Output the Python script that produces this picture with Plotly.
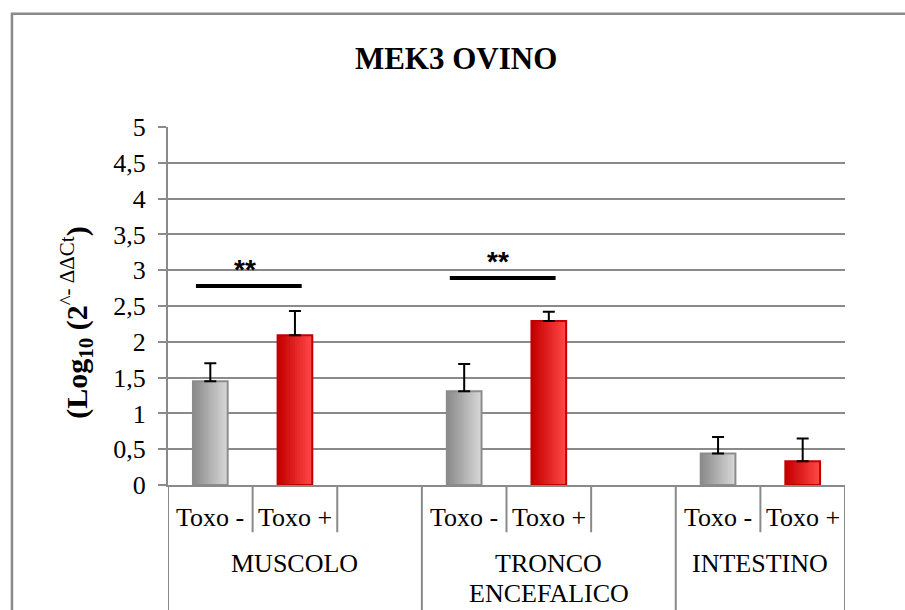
import plotly.graph_objects as go

# ---- data -------------------------------------------------------------
groups = ["MUSCOLO", "TRONCO\nENCEFALICO", "INTESTINO"]
conditions = ["Toxo -", "Toxo +"]
toxo_neg = [1.45, 1.31, 0.44]
toxo_neg_err = [0.25, 0.38, 0.23]
toxo_pos = [2.09, 2.29, 0.33]
toxo_pos_err = [0.34, 0.13, 0.32]
y_ticks = [0, 0.5, 1, 1.5, 2, 2.5, 3, 3.5, 4, 4.5, 5]
# significance brackets: (group index, bar height, label)
signif = [(0, 2.78, "**"), (1, 2.89, "**")]

# ---- layout helpers ---------------------------------------------------
SLOTS_PER_GROUP = 3          # two bars + one empty slot per group
n_slots = SLOTS_PER_GROUP * (len(groups) - 1) + len(conditions)
FONT = "Liberation Serif, Times New Roman, serif"
GRID = "#8a8a8a"
BAR_W = 0.41
N_STRIPS = 14                # shading steps across each bar


def lerp_color(c0, c1, t):
    return "rgb({},{},{})".format(*[round(a + (b - a) * t) for a, b in zip(c0, c1)])


fig = go.Figure()

series = [
    (toxo_neg, toxo_neg_err, 0, (140, 140, 140), (214, 214, 214), "#8c8c8c"),
    (toxo_pos, toxo_pos_err, 1, (196, 0, 0), (255, 70, 70), "#c00000"),
]
for values, errors, offset, dark, light, edge in series:
    xs = [SLOTS_PER_GROUP * g + offset for g in range(len(groups))]
    step = BAR_W / N_STRIPS
    # shaded fill: successive narrower bars anchored on the right edge,
    # going from dark (left) to light (right)
    for i in range(N_STRIPS):
        t = i / (N_STRIPS - 1)
        w = BAR_W - i * step
        fig.add_trace(go.Bar(
            x=[x + BAR_W / 2 - w / 2 for x in xs], y=values, width=w,
            marker=dict(color=lerp_color(dark, light, t), line_width=0),
            hoverinfo="skip",
        ))
    # outline and error bars
    fig.add_trace(go.Bar(
        x=xs, y=values, width=BAR_W, name=conditions[offset],
        marker=dict(color="rgba(0,0,0,0)", line=dict(color=edge, width=2)),
        error_y=dict(type="data", array=errors, arrayminus=[0] * len(groups),
                     symmetric=False, color="black", thickness=2, width=6),
    ))

shapes = []
annotations = []
BOTTOM = -0.36   # paper y below the figure edge

# category table under the x axis
for b in range(n_slots + 1):
    xb = b - 0.5
    is_group_edge = (b % SLOTS_PER_GROUP == 0) or b == n_slots
    shapes.append(dict(type="line", xref="x", yref="paper", x0=xb, x1=xb,
                       y0=0, y1=BOTTOM if is_group_edge else -0.132,
                       line=dict(color=GRID, width=2)))

for g, name in enumerate(groups):
    for c, cond in enumerate(conditions):
        annotations.append(dict(x=SLOTS_PER_GROUP * g + c, y=-0.09, xref="x", yref="paper",
                                xanchor="center", yanchor="middle",
                                text=cond, showarrow=False,
                                font=dict(family=FONT, size=26, color="black")))
    last = min(SLOTS_PER_GROUP * g + SLOTS_PER_GROUP, n_slots) - 1
    center = (SLOTS_PER_GROUP * g - 0.5 + last + 0.5) / 2
    for i, line in enumerate(name.split("\n")):
        annotations.append(dict(x=center, y=-0.218 - i * 0.084, xref="x", yref="paper",
                                xanchor="center", yanchor="middle",
                                text=line, showarrow=False,
                                font=dict(family=FONT, size=26, color="black")))

# significance bars
for g, h, label in signif:
    x0 = SLOTS_PER_GROUP * g - 0.17
    x1 = SLOTS_PER_GROUP * g + 1.08
    shapes.append(dict(type="line", xref="x", yref="y", x0=x0, x1=x1, y0=h, y1=h,
                       line=dict(color="black", width=4)))
    annotations.append(dict(x=(x0 + x1) / 2 - 0.05, y=h + 0.23, xref="x", yref="y",
                            xanchor="center", yanchor="middle",
                            text="<b>" + label + "</b>", showarrow=False,
                            font=dict(family="Liberation Sans, Arial, sans-serif",
                                      size=28, color="black")))

# y axis title
annotations.append(dict(x=-0.135, y=0.452, xref="paper", yref="paper", textangle=-90,
                        xanchor="center", yanchor="middle", showarrow=False,
                        text="<b>(Log<sub>10</sub> (2</b><sup>^- ΔΔCt</sup><b>)</b>",
                        font=dict(family=FONT, size=30, color="black")))

# outer frame
shapes.append(dict(type="rect", xref="paper", yref="paper",
                   x0=-0.2305, x1=1.6, y0=-0.6, y1=1.316,
                   line=dict(color=GRID, width=2.5), fillcolor="rgba(0,0,0,0)"))

fig.update_layout(
    width=905, height=610,
    margin=dict(l=168, r=60, t=127, b=125),
    paper_bgcolor="white", plot_bgcolor="white",
    showlegend=False, barmode="overlay",
    separators=", ",
    title=dict(text="<b>MEK3 OVINO</b>", x=0.504, xanchor="center", y=0.905, yanchor="middle",
               font=dict(family=FONT, size=31, color="black")),
    shapes=shapes, annotations=annotations,
    xaxis=dict(range=[-0.5, n_slots - 0.5], showgrid=False, zeroline=False,
               showticklabels=False, showline=True, linecolor=GRID, linewidth=2,
               ticks="", fixedrange=True),
    yaxis=dict(range=[0, 5], tickvals=y_ticks, showgrid=True, gridcolor=GRID, gridwidth=1.5,
               zeroline=False, showline=True, linecolor=GRID, linewidth=2,
               ticks="outside", ticklen=8, tickcolor=GRID, tickwidth=2,
               ticklabelstandoff=7,
               tickfont=dict(family=FONT, size=26, color="black")),
)

fig.write_html("out.html", config={"displayModeBar": False})
